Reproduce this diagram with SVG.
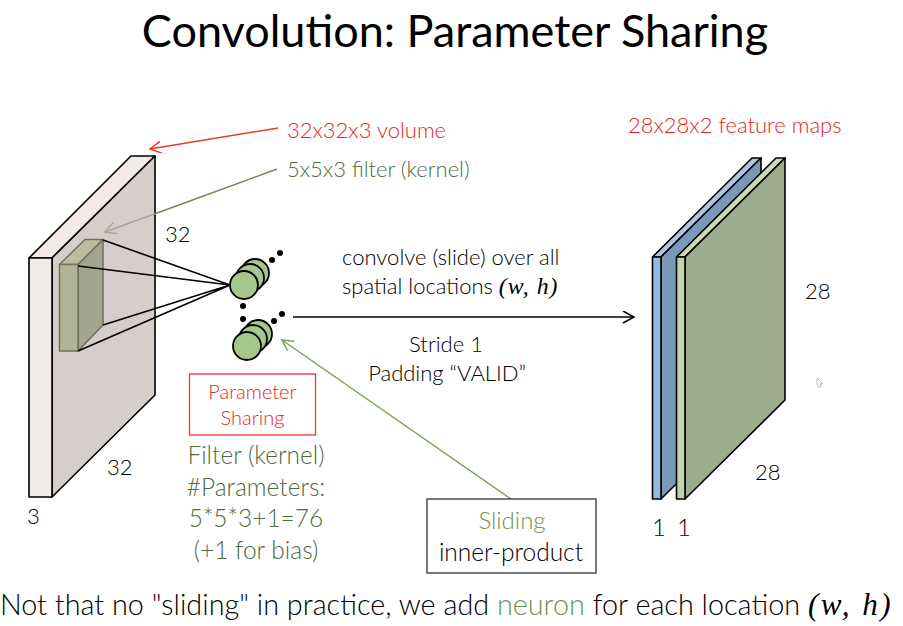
<svg xmlns="http://www.w3.org/2000/svg" width="903" height="626" viewBox="0 0 903 626">
<style>
text{font-family:"Lato","Liberation Sans",sans-serif;font-weight:300;fill:#000}
.m{text-anchor:middle}
.s{font-size:22px}
.r{fill:#e6261c}
.g{fill:#4f6b3d}
.e{font-family:"Liberation Serif",serif;font-style:italic;font-weight:400;font-size:1.080em;letter-spacing:1px}
.k{stroke:#000;stroke-width:1.6;stroke-linejoin:round}
.f{stroke:#6f6f60;stroke-width:1.5;stroke-linejoin:round}
.n{fill:#a6c78b;stroke:#000;stroke-width:1.8}
.d{fill:#000}
</style>
<defs>
<marker id="ar" markerWidth="14" markerHeight="14" refX="12" refY="6" orient="auto" markerUnits="userSpaceOnUse"><path d="M1 0L12 6L1 12" fill="none" stroke="context-stroke" stroke-width="1.500"/></marker>
</defs>
<rect width="903" height="626" fill="#fff"/>
<text class="m" x="455" y="47" font-size="45" style="font-weight:400">Convolution: Parameter Sharing</text>
<g id="volume">
<polygon class="k" points="29,258 131,156 155,156 52,258" fill="#f3e9e7"/>
<polygon class="k" points="52,258 155,156 155,395 52,497" fill="#d6cecb"/>
<rect class="k" x="29" y="258" width="23" height="239" fill="#f3e9e7"/>
</g>
<g id="filter">
<polygon class="f" points="59.500,264.500 85,239.500 103,239.500 78,264.500" fill="#bcbda0"/>
<polygon class="f" points="78,264.500 103,239.500 103,325 78,351" fill="#a3a58e"/>
<rect class="f" x="59.500" y="264.500" width="18.500" height="86.500" fill="#b1b497"/>
</g>
<g id="connectors" fill="none">
<path class="k" d="M103,240L230,285M78,266L230,285M103,325L230,285M78,351L230,285"/>
<path d="M278,128L150,149" stroke="#e8392c" stroke-width="1.500" marker-end="url(#ar)"/>
<path d="M277,169L155,213.700" stroke="#6d8a55" stroke-width="1.500"/>
<path d="M155,213.700L105,232" stroke="#a5a893" stroke-width="1.500" marker-end="url(#ar)"/>
<path d="M293,317L634,317" stroke="#000" stroke-width="1.400" marker-end="url(#ar)"/>
<path d="M511,499L282,340" stroke="#7fa05f" stroke-width="1.500" marker-end="url(#ar)"/>
</g>
<g id="neuron-top">
<circle class="n" cx="255" cy="273" r="14"/><circle class="n" cx="250" cy="278" r="14"/><circle class="n" cx="244" cy="285" r="14"/>
<circle class="d" cx="272" cy="260" r="3"/><circle class="d" cx="280" cy="253" r="3"/>
</g>
<g id="neuron-bottom">
<circle class="n" cx="258" cy="334" r="14"/><circle class="n" cx="253" cy="339" r="14"/><circle class="n" cx="247" cy="346" r="14"/>
<circle class="d" cx="243" cy="306" r="3"/><circle class="d" cx="243" cy="319" r="3"/><circle class="d" cx="274" cy="321" r="3"/><circle class="d" cx="282" cy="314" r="3"/>
</g>
<g id="map-blue">
<polygon class="k" points="652.500,257 752,158 761,158 661,257" fill="#abc6e2"/>
<polygon class="k" points="661,257 761,158 761,400 661,499" fill="#7899b8"/>
<rect class="k" x="652.500" y="257" width="8.500" height="242" fill="#93bae0"/>
</g>
<g id="map-green">
<polygon class="k" points="676.500,257 776,158 785,158 685,257" fill="#c9dcb9"/>
<polygon class="k" points="685,257 785,158 785,400 685,499" fill="#9cac8d"/>
<rect class="k" x="676.500" y="257" width="8.500" height="242" fill="#bcd5a9"/>
</g>
<path id="cursor" d="M817,378L823,384L820,384L821,387L819,387L817,384Z" fill="#fff" stroke="#aaa" stroke-width="0.800"/>
<g id="labels">
<text class="s r" x="287" y="138">32x32x3 volume</text>
<text class="s g" x="287" y="177">5x5x3 filter (kernel)</text>
<text class="s r" x="628" y="133">28x28x2 feature maps</text>
<text class="s" x="165" y="242">32</text>
<text class="s" x="107" y="475">32</text>
<text class="s" x="27" y="524">3</text>
<text class="s" x="805" y="299">28</text>
<text class="s" x="755" y="480">28</text>
<text class="s" x="652" y="536" style="font-size:24px">1</text>
<text class="s" x="677" y="536" style="font-size:24px">1</text>
<text class="s" x="342" y="265">convolve (slide) over all</text>
<text class="s" x="342" y="294">spatial locations <tspan class="e">(w, h)</tspan></text>
<text class="s m" x="446" y="352">Stride 1</text>
<text class="s m" x="447" y="381">Padding “VALID”</text>
</g>
<g id="parameter-sharing">
<rect x="189.500" y="374" width="126" height="61" fill="#fff" stroke="#e8392c" stroke-width="1.300"/>
<text class="m r" x="252.500" y="399" font-size="20">Parameter</text>
<text class="m r" x="252.500" y="425" font-size="20">Sharing</text>
</g>
<g id="filter-params">
<text class="m g" x="256" y="464" font-size="24.500">Filter (kernel)</text>
<text class="m g" x="256" y="496" font-size="24.500">#Parameters:</text>
<text class="m g" x="256" y="527" font-size="24.500">5*5*3+1=76</text>
<text class="m g" x="256" y="559" font-size="24.500">(+1 for bias)</text>
</g>
<g id="sliding">
<rect x="427" y="499" width="169" height="74" fill="#fff" stroke="#333" stroke-width="1.300"/>
<text class="m" x="512" y="529" font-size="24" style="fill:#6f9350">Sliding</text>
<text class="m" x="511" y="561" font-size="24.500">inner-product</text>
</g>
<text id="caption" x="0" y="615" font-size="28.800">Not that no "sliding" in practice, we add <tspan style="fill:#6f9350">neuron</tspan> for each location <tspan class="e" style="letter-spacing:2.500px">(w, h)</tspan></text>
</svg>
